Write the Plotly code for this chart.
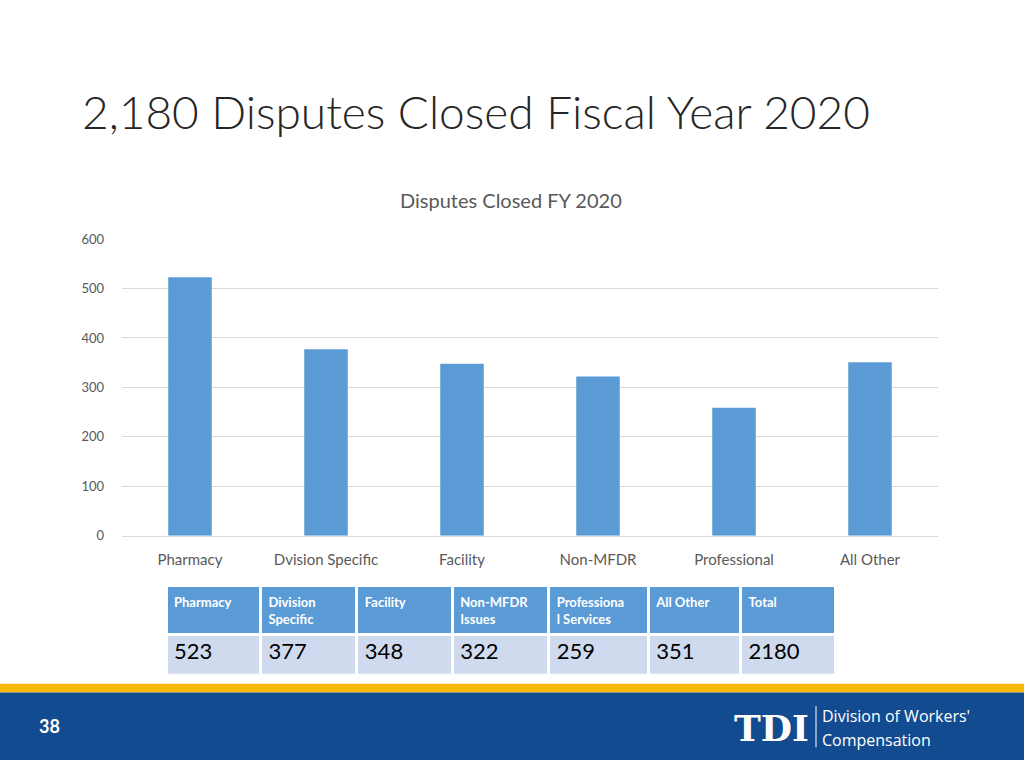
import plotly.graph_objects as go

categories = ["Pharmacy", "Dvision Specific", "Facility", "Non-MFDR", "Professional", "All Other"]
values = [523, 377, 348, 322, 259, 351]
y_ticks = [0, 100, 200, 300, 400, 500, 600]

table_headers = ["Pharmacy", "Division<br>Specific", "Facility", "Non-MFDR<br>Issues",
                 "Professiona<br>l Services", "All Other", "Total"]
table_values = ["523", "377", "348", "322", "259", "351", "2180"]
table_col_widths = [94, 96, 95, 96, 99, 92, 94]

W, H = 1024, 768

def px_x(x):
    return x / W

def px_y(y):
    return 1 - y / H

fig = go.Figure()

fig.add_trace(go.Bar(
    x=categories, y=values,
    marker=dict(color="#5b9bd5", line=dict(width=0)),
    hoverinfo="x+y",
))

fig.add_trace(go.Table(
    domain=dict(x=[px_x(166), px_x(835)], y=[px_y(680), px_y(590)]),
    columnwidth=table_col_widths,
    header=dict(
        values=[f"<b>{h}</b>" for h in table_headers],
        fill_color="#5b9bd5",
        line=dict(color="white", width=3),
        align="left",
        font=dict(family="Lato, Open Sans, sans-serif", size=13, color="white"),
        height=47,
    ),
    cells=dict(
        values=[[v] for v in table_values],
        fill_color="#cfdaee",
        line=dict(color="white", width=3),
        align="left",
        font=dict(family="Lato, Open Sans, sans-serif", size=22, color="black"),
        height=43,
    ),
))

fig.update_layout(
    width=W, height=H,
    margin=dict(l=0, r=0, t=0, b=0),
    paper_bgcolor="white",
    plot_bgcolor="white",
    showlegend=False,
    bargap=0.68,
    font=dict(family="Lato, Open Sans, sans-serif", color="#595959"),
    xaxis=dict(
        domain=[px_x(122), px_x(938)],
        anchor="y",
        showgrid=False,
        showline=True, linecolor="#d9d9d9", linewidth=1,
        ticks="",
        ticklabelstandoff=10,
        tickfont=dict(size=15, color="#595959"),
    ),
    yaxis=dict(
        domain=[px_y(539), px_y(236)],
        range=[0, 600],
        tickvals=y_ticks,
        showgrid=True, gridcolor="#d9d9d9", gridwidth=1,
        zeroline=False,
        showline=False,
        ticks="",
        ticklabelstandoff=17,
        tickfont=dict(size=13, color="#595959"),
    ),
    shapes=[
        dict(type="rect", xref="paper", yref="paper", x0=0, x1=1,
             y0=px_y(699), y1=px_y(690), fillcolor="#f7b800", line=dict(width=0), layer="below"),
        dict(type="rect", xref="paper", yref="paper", x0=0, x1=1,
             y0=0, y1=px_y(699), fillcolor="#134b90", line=dict(width=0), layer="below"),
        dict(type="line", xref="paper", yref="paper", x0=px_x(816), x1=px_x(816),
             y0=px_y(755), y1=px_y(713), line=dict(color="white", width=1)),
    ],
    annotations=[
        dict(text="2,180 Disputes Closed Fiscal Year 2020", xref="paper", yref="paper",
             x=px_x(80), y=px_y(106), xanchor="left", yanchor="middle", showarrow=False,
             font=dict(family="Lato, Open Sans, sans-serif", size=46, color="#262626", weight=300)),
        dict(text="Disputes Closed FY 2020", xref="paper", yref="paper",
             x=px_x(511), y=px_y(196), xanchor="center", yanchor="middle", showarrow=False,
             font=dict(family="Lato, Open Sans, sans-serif", size=20, color="#595959")),
        dict(text="<b>38</b>", xref="paper", yref="paper",
             x=px_x(49), y=px_y(733), xanchor="center", yanchor="middle", showarrow=False,
             font=dict(family="Lato, Open Sans, sans-serif", size=18, color="white")),
        dict(text="<b>TDI</b>", xref="paper", yref="paper",
             x=px_x(771), y=px_y(735), xanchor="center", yanchor="middle", showarrow=False,
             font=dict(family="DejaVu Serif, serif", size=36, color="white")),
        dict(text="Division of Workers'", xref="paper", yref="paper",
             x=px_x(821), y=px_y(735), xanchor="left", yanchor="bottom", showarrow=False,
             borderpad=0,
             font=dict(family="Open Sans, sans-serif", size=16, color="white")),
        dict(text="Compensation", xref="paper", yref="paper",
             x=px_x(821), y=px_y(735), xanchor="left", yanchor="top", showarrow=False,
             borderpad=0,
             font=dict(family="Open Sans, sans-serif", size=16, color="white")),
    ],
)

fig.write_html(
    "out.html",
    config={"displayModeBar": False},
    post_script="document.documentElement.style.margin='0';document.body.style.margin='0';"
                "document.body.style.overflow='hidden';",
)
